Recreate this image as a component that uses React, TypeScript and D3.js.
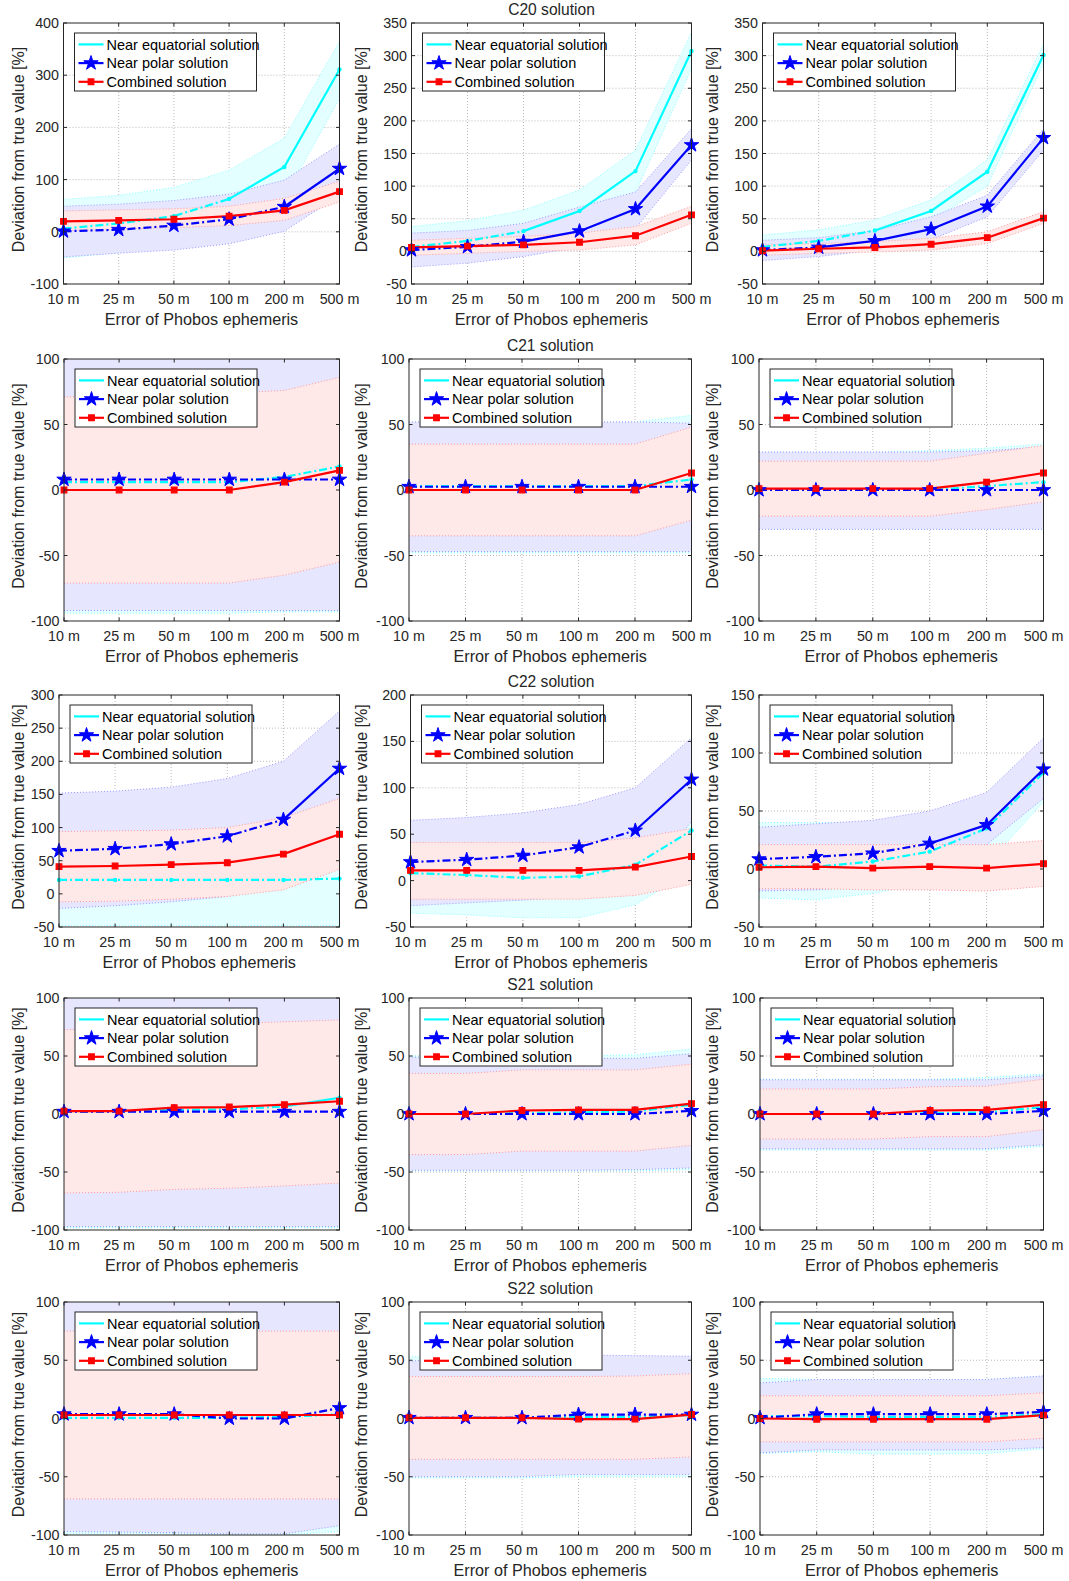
import React from "react";
import * as d3 from "d3";

// categories and labels
const xLabels = ["10 m", "25 m", "50 m", "100 m", "200 m", "500 m"];
const seriesNames = ["Near equatorial solution", "Near polar solution", "Combined solution"];
const rowTitles = ["C20 solution", "C21 solution", "C22 solution", "S21 solution", "S22 solution"];

// y axis ranges and tick steps, per row, per column
const yRanges = [
  [[-100, 400], [-50, 350], [-50, 350]],
  [[-100, 100], [-100, 100], [-100, 100]],
  [[-50, 300], [-50, 200], [-50, 150]],
  [[-100, 100], [-100, 100], [-100, 100]],
  [[-100, 100], [-100, 100], [-100, 100]],
];
const yStep = [
  [100, 50, 50],
  [50, 50, 50],
  [50, 50, 50],
  [50, 50, 50],
  [50, 50, 50],
];

// each panel: [equatorial, polar, combined]
const c20Mean = [
  [[6, 16, 30, 63, 124, 311], [1, 4, 12, 24, 48, 121], [20, 22, 24, 30, 41, 77]],
  [[7, 16, 31, 62, 123, 307], [2, 7, 15, 31, 65, 163], [6, 8, 10, 14, 24, 56]],
  [[7, 16, 32, 62, 122, 301], [2, 6, 16, 34, 69, 174], [1, 4, 6, 11, 21, 51]],
];
const c20Low = [
  [[-50, -40, -25, 10, 65, 255], [-48, -41, -35, -23, 1, 70], [2, 5, 8, 12, 22, 57]],
  [[-20, -10, 5, 30, 90, 280], [-24, -18, -8, 7, 35, 140], [-6, -3, 0, 2, 10, 43]],
  [[-5, 0, 15, 48, 100, 288], [-14, -8, 2, 18, 53, 155], [-6, -3, -1, 2, 12, 43]],
];
const c20High = [
  [[62, 70, 85, 118, 179, 365], [49, 53, 60, 72, 99, 168], [40, 42, 44, 49, 64, 97]],
  [[38, 47, 63, 94, 155, 336], [28, 32, 43, 68, 91, 188], [17, 20, 23, 28, 38, 69]],
  [[25, 33, 48, 79, 140, 318], [17, 21, 32, 53, 86, 188], [10, 12, 15, 20, 30, 61]],
];
const c20SolidFrom = [[3, 4, 0], [2, 2, 0], [2, 1, 0]];

const c21Mean = [
  [[6, 6, 6, 6, 10, 18], [8, 8, 8, 8, 8, 8], [0, 0, 0, 0, 6, 15]],
  [[3, 3, 3, 3, 3, 8], [2.5, 2.5, 2.5, 2.5, 2.5, 2.5], [0, 0, 0, 0, 0, 13]],
  [[0, 0, 0, 0, 3, 6], [0, 0, 0, 0, 0, 0], [1, 1, 1, 1, 6, 13]],
];
const c21Low = [
  [[-94, -94, -94, -94, -93, -93], [-92, -92, -92, -92, -92, -92], [-71, -71, -71, -71, -65, -55]],
  [[-48, -48, -48, -48, -48, -48], [-47, -47, -47, -47, -47, -47], [-35, -35, -35, -35, -35, -23]],
  [[-30, -30, -30, -30, -30, -30], [-30, -30, -30, -30, -30, -30], [-20, -20, -20, -20, -15, -9]],
];
const c21High = [
  [[115, 115, 115, 115, 115, 115], [108, 108, 108, 108, 108, 108], [71, 72, 73, 74, 76, 86]],
  [[52, 52, 52, 52, 52, 57], [52, 52, 52, 52, 52, 51], [35, 35, 35, 35, 35, 48]],
  [[29, 29, 29, 30, 32, 35], [29, 29, 29, 29, 30, 33], [22, 22, 22, 22, 28, 34]],
];
const c21SolidFrom = [[5, 5, 0], [5, 5, 0], [5, 5, 0]];

const c22Mean = [
  [[21, 21, 21, 21, 21, 23], [65, 68, 75, 87, 112, 189], [41, 42, 44, 47, 60, 90]],
  [[8, 6, 3, 4.5, 17, 54], [20, 22.5, 27, 36, 54, 109], [11, 11, 11, 11, 14.5, 26]],
  [[3, 2, 6.5, 15, 35, 83], [8.5, 10.5, 13.5, 22, 38, 86], [1.5, 2, 0.8, 2, 0.8, 4.5]],
];
const c22Low = [
  [[-48, -48, -48, -48, -48, -48], [-22, -18, -12, -4, 15, 110], [-12, -11, -8, -4, 6, 37]],
  [[-35, -37, -40, -40, -26, 10], [-27, -24, -21, -17, -15, 64], [-20, -20, -20, -20, -16, -4]],
  [[-25, -26.5, -21, -12, 4, 58], [-19, -18, -15, -8, 21, 61], [-17, -17, -18, -18, -19, -15]],
];
const c22High = [
  [[60, 60, 60, 60, 60, 70], [152, 155, 161, 174, 200, 276], [94, 95, 96, 100, 115, 144]],
  [[50, 50, 45, 45, 60, 100], [65, 68, 73, 82, 100, 154], [41, 41, 41, 41, 46, 56]],
  [[40, 40, 40, 45, 60, 110], [36, 39, 42, 50, 66, 113], [21, 21, 21, 21, 21, 24.5]],
];
const c22SolidFrom = [[5, 4, 0], [5, 4, 0], [5, 3, 0]];

const s21Mean = [
  [[2, 2, 3.5, 4, 6.5, 14], [2, 2, 2, 2, 2, 2], [2.5, 2.5, 5.5, 6, 8, 11]],
  [[0, 0, 0.8, 1.3, 2.2, 8], [0, 0, 0, 0, 0, 2.7], [0, 0, 3, 3.5, 3.5, 9]],
  [[0, 0, 0, 0.7, 1.3, 6], [0, 0, 0, 0, 0, 2.7], [0, 0, 0, 3, 3.5, 8]],
];
const s21Low = [
  [[-98, -98, -98, -98, -98, -98], [-97, -97, -97, -97, -97, -97], [-68, -67.5, -65, -64, -62, -59.5]],
  [[-49, -49, -49, -49, -49, -48], [-48.5, -48.5, -48.5, -48.5, -48, -46.5], [-35, -35, -32, -32, -32, -27]],
  [[-31, -31, -31, -31, -31, -28], [-30, -30, -30, -30, -30, -26.5], [-21.5, -21.5, -21.5, -19.5, -19.5, -13.5]],
];
const s21High = [
  [[110, 110, 110, 110, 110, 110], [100.5, 100.5, 100.5, 100.5, 100.5, 100.5], [72.5, 75, 77, 78, 79.5, 81]],
  [[50, 50, 50, 50, 51, 56], [49, 49, 48, 48, 48, 52], [35, 35, 38, 38, 38, 43]],
  [[30, 30, 30, 30, 31.5, 34.5], [29.5, 29.5, 29.5, 29.5, 29.5, 33], [21.5, 21.5, 21.5, 23.5, 24, 30]],
];
const s21SolidFrom = [[4, 5, 0], [5, 5, 0], [5, 5, 0]];

const s22Mean = [
  [[0.6, 0.6, 0.6, 0.6, 1.4, 3.7], [3.7, 3.7, 3.7, 0, 0, 9], [3, 3, 3, 3, 3, 3]],
  [[0.6, 0.6, 0.6, 1.4, 1.4, 2.9], [0.6, 0.6, 0.6, 3.4, 3.4, 3.4], [0.6, 0.6, 0.6, -0.5, -0.5, 3.4]],
  [[2, 2, 1.4, 1.4, 1.4, 3.7], [0.6, 3.7, 3.7, 3.7, 3.7, 5.7], [0, -0.6, -0.6, -0.6, -0.6, 2.9]],
];
const s22Low = [
  [[-99, -99, -99, -100, -100, -97], [-97, -97.5, -98, -99, -99, -92], [-69, -69, -69, -69, -69, -69]],
  [[-51, -51, -51, -50, -50, -50], [-50, -50, -50, -48, -48, -48], [-35, -35, -35, -35, -35, -33]],
  [[-30, -28.5, -30.5, -30.5, -30, -26], [-29.5, -27, -27, -27, -27, -25], [-20, -20, -20, -20, -20, -17]],
];
const s22High = [
  [[110, 110, 110, 110, 110, 110], [100.5, 100.5, 100.5, 100.5, 100.5, 100.5], [75, 75, 75, 75, 75, 75]],
  [[53, 53, 53, 53, 53, 53], [49, 54, 54, 54.5, 54, 53.5], [36, 36, 36, 36, 36.5, 38.5]],
  [[34.5, 33.5, 33.5, 33.5, 33.5, 36.5], [30.5, 33.5, 33.5, 33.5, 33.5, 36.5], [19.5, 19.5, 19.5, 19.5, 19.5, 22]],
];
const s22SolidFrom = [[5, 5, 0], [5, 5, 0], [5, 5, 0]];

const rowMean = [c20Mean, c21Mean, c22Mean, s21Mean, s22Mean];
const rowLow = [c20Low, c21Low, c22Low, s21Low, s22Low];
const rowHigh = [c20High, c21High, c22High, s21High, s22High];
const rowSolidFrom = [c20SolidFrom, c21SolidFrom, c22SolidFrom, s21SolidFrom, s22SolidFrom];

// styling
const lineColors = ["#00ffff", "#0000ff", "#ff0000"];
const bandColors = ["#e3ffff", "#e6e6ff", "#ffe8e8"];
const edgeColors = ["#8ff", "#99f", "#f99"];
const ink = "#262626";
const font = "'Liberation Sans', Arial, Helvetica, sans-serif";

// layout
const axLeft = [
  [63.5, 411.5, 762.5],
  [64, 409, 759],
  [59, 410.5, 759],
  [64, 409, 760],
  [64, 409, 760],
];
const colRight = [339.5, 691.5, 1043.5];
const axTop = [23, 359, 695, 998, 1302];
const axBottom = [284, 621, 927, 1230, 1535];
const yLabelX = [24, 366.5, 717.5];

const starPath = d3.symbol().type(d3.symbolStar).size(64)() as string;
const squarePath = d3.symbol().type(d3.symbolSquare).size(32)() as string;

function Marker({ k, x, y }: { k: number; x: number; y: number }) {
  if (k === 0) return <circle cx={x} cy={y} r={2.2} fill={lineColors[0]} />;
  if (k === 1)
    return <path d={starPath} transform={`translate(${x},${y})`} fill={lineColors[1]} stroke={lineColors[1]} strokeWidth={1} />;
  return <path d={squarePath} transform={`translate(${x},${y})`} fill={lineColors[2]} stroke={lineColors[2]} strokeWidth={1.2} />;
}

function Panel({ r, c }: { r: number; c: number }) {
  const left = axLeft[r][c];
  const right = colRight[c];
  const top = axTop[r];
  const bottom = axBottom[r];
  const [y0, y1] = yRanges[r][c];
  const x = d3.scalePoint<string>().domain(xLabels).range([left, right]);
  const y = d3.scaleLinear().domain([y0, y1]).range([bottom, top]);
  const yTicks = d3.range(y0, y1 + 1e-6, yStep[r][c]);
  const means = rowMean[r][c];
  const lows = rowLow[r][c];
  const highs = rowHigh[r][c];
  const solidFrom = rowSolidFrom[r][c];
  const id = `clip-${r}-${c}`;

  const px = (i: number) => x(xLabels[i]) as number;
  const line = d3
    .line<[number, number]>()
    .x((d) => px(d[0]))
    .y((d) => y(d[1]));

  const legLeft = left + 11;
  const legTop = top + 10;

  return (
    <g>
      <defs>
        <clipPath id={id}>
          <rect x={left} y={top} width={right - left} height={bottom - top} />
        </clipPath>
      </defs>
      <rect x={left} y={top} width={right - left} height={bottom - top} fill="#fff" />
      {/* grid */}
      <g stroke="#a8a8a8" strokeWidth={0.8} strokeDasharray="1,2">
        {xLabels.slice(1, -1).map((l) => (
          <line key={l} x1={x(l)} x2={x(l)} y1={top} y2={bottom} />
        ))}
        {yTicks.slice(1, -1).map((t) => (
          <line key={t} x1={left} x2={right} y1={y(t)} y2={y(t)} />
        ))}
      </g>
      <g clipPath={`url(#${id})`}>
        {[0, 1, 2].map((k) => {
          const area = d3
            .area<number>()
            .x((_, i) => px(i))
            .y0((_, i) => y(lows[k][i]))
            .y1((d) => y(d));
          const lo = lows[k].map((v, i) => [i, v] as [number, number]);
          const hi = highs[k].map((v, i) => [i, v] as [number, number]);
          return (
            <g key={k}>
              <path d={area(highs[k]) as string} fill={bandColors[k]} />
              <path d={line(lo) as string} fill="none" stroke={edgeColors[k]} strokeWidth={1} strokeDasharray="1,2" />
              <path d={line(hi) as string} fill="none" stroke={edgeColors[k]} strokeWidth={1} strokeDasharray="1,2" />
            </g>
          );
        })}
        {[0, 1, 2].map((k) => {
          const pts = means[k].map((v, i) => [i, v] as [number, number]);
          const sf = solidFrom[k];
          const dashed = pts.slice(0, sf + 1);
          const solid = pts.slice(sf);
          return (
            <g key={k}>
              {sf > 0 && (
                <path d={line(dashed) as string} fill="none" stroke={lineColors[k]} strokeWidth={2.2} strokeDasharray="8,3,2,3" />
              )}
              {solid.length > 1 && (
                <path d={line(solid) as string} fill="none" stroke={lineColors[k]} strokeWidth={2.2} />
              )}
            </g>
          );
        })}
      </g>
      {[0, 1, 2].map((k) => (
        <g key={k}>
          {means[k].map((v, i) => (
            <Marker key={i} k={k} x={px(i)} y={y(v)} />
          ))}
        </g>
      ))}
      {/* axes box and ticks */}
      <rect x={left} y={top} width={right - left} height={bottom - top} fill="none" stroke={ink} strokeWidth={1} />
      <g stroke={ink} strokeWidth={1}>
        {xLabels.map((l) => (
          <g key={l}>
            <line x1={x(l)} x2={x(l)} y1={bottom} y2={bottom - 3.5} />
            <line x1={x(l)} x2={x(l)} y1={top} y2={top + 3.5} />
          </g>
        ))}
        {yTicks.map((t) => (
          <g key={t}>
            <line x1={left} x2={left + 3.5} y1={y(t)} y2={y(t)} />
            <line x1={right} x2={right - 3.5} y1={y(t)} y2={y(t)} />
          </g>
        ))}
      </g>
      <g fill={ink} fontFamily={font} fontSize={14.3}>
        {xLabels.map((l) => (
          <text key={l} x={x(l)} y={bottom + 19.5} textAnchor="middle">
            {l}
          </text>
        ))}
        {yTicks.map((t) => (
          <text key={t} x={left - 4.5} y={y(t)} dy="0.35em" textAnchor="end">
            {t}
          </text>
        ))}
      </g>
      <text x={(left + right) / 2} y={bottom + 40.5} textAnchor="middle" fontFamily={font} fontSize={16.2} fill={ink}>
        Error of Phobos ephemeris
      </text>
      <text
        transform={`translate(${yLabelX[c]},${(top + bottom) / 2 - 4}) rotate(-90)`}
        textAnchor="middle"
        fontFamily={font}
        fontSize={16}
        fill={ink}
      >
        Deviation from true value [%]
      </text>
      {c === 1 && (
        <text x={(left + right) / 2} y={top - 7.7} textAnchor="middle" fontFamily={font} fontSize={15.6} fill={ink}>
          {rowTitles[r]}
        </text>
      )}
      {/* legend */}
      <g>
        <rect x={legLeft} y={legTop} width={182} height={58} fill="#fff" stroke={ink} strokeWidth={1} />
        {seriesNames.map((name, k) => {
          const cy = legTop + 11.4 + k * 18.7;
          return (
            <g key={name}>
              <line x1={legLeft + 4} x2={legLeft + 29} y1={cy} y2={cy} stroke={lineColors[k]} strokeWidth={2.2} />
              {k > 0 && <Marker k={k} x={legLeft + 16.5} y={cy} />}
              <text x={legLeft + 32} y={cy} dy="0.36em" fontFamily={font} fontSize={14.5} fill="#000">
                {name}
              </text>
            </g>
          );
        })}
      </g>
    </g>
  );
}

export default function App() {
  return (
    <svg
      width={1069}
      height={1581}
      style={{ position: "absolute", left: 0, top: 0, background: "#fff" }}
    >
      {rowTitles.map((_, r) =>
        [0, 1, 2].map((c) => <Panel key={`${r}-${c}`} r={r} c={c} />)
      )}
    </svg>
  );
}
